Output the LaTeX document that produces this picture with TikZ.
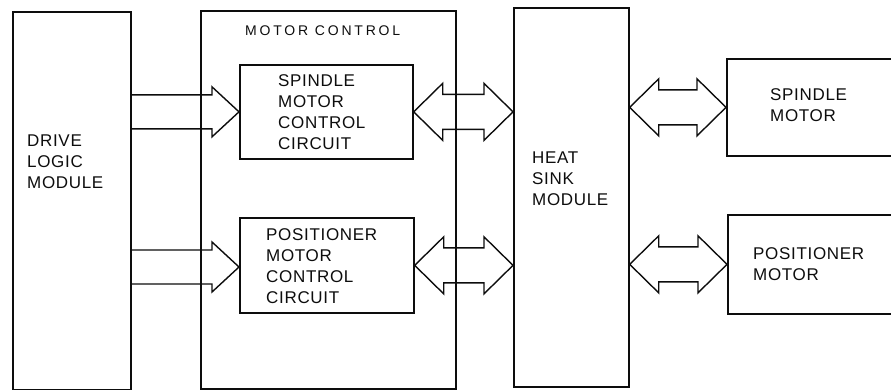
\documentclass[tikz,border=0pt]{standalone}
\usepackage{fontspec}
\setmainfont{Liberation Sans}
\newfontfamily\BoxFont{Liberation Sans}[LetterSpace=4]
\newfontfamily\TitleFont{Liberation Sans}[LetterSpace=20]
\usetikzlibrary{calc}
\definecolor{InkClr}{rgb}{0.05,0.05,0.05}

\tikzset{
  blk/.style={draw=InkClr,line width=1.7pt,inner sep=0pt,anchor=north west},
  txt/.style={inner sep=0pt,anchor=north west,align=left,text=InkClr,
    font=\BoxFont\fontsize{17}{21}\selectfont},
  hollow/.style={draw=InkClr,line width=1.4pt,line join=miter}
}
% single hollow arrow: tail #1, tip #2
\newcommand\FatArrow[2]{\draw[hollow] let \p1=(#1), \p2=(#2) in
  (\x1,\y2+17) -- (\x2-27,\y2+17) -- (\x2-27,\y2+25) -- (\p2)
  -- (\x2-27,\y2-25) -- (\x2-27,\y2-17) -- (\x1,\y2-17);}
% double hollow arrow: tip #1, tip #2
\newcommand\BusArrow[2]{\draw[hollow] let \p1=(#1), \p2=(#2) in
  (\p1) -- (\x1+29,\y1+28.5) -- (\x1+29,\y1+17.5) -- (\x2-29,\y1+17.5)
  -- (\x2-29,\y1+28.5) -- (\x2,\y1) -- (\x2-29,\y1-28.5) -- (\x2-29,\y1-17.5)
  -- (\x1+29,\y1-17.5) -- (\x1+29,\y1-28.5) -- cycle;}

\begin{document}
\begin{tikzpicture}[x=1pt,y=-1pt]
\clip (0,0) rectangle (891,390);

% blocks
\node[blk,minimum width=118pt,minimum height=378pt] (dlm) at (12,11) {};
\node[blk,minimum width=255pt,minimum height=378pt] (mc) at (200,10) {};
\node[blk,minimum width=173pt,minimum height=94pt] (smcc) at (239,64) {};
\node[blk,minimum width=174pt,minimum height=95pt] (pmcc) at (239,217) {};
\node[blk,minimum width=115pt,minimum height=379pt] (hsm) at (513,7) {};
\node[blk,minimum width=200pt,minimum height=97pt] (sm) at (726,58) {};
\node[blk,minimum width=200pt,minimum height=99pt] (pm) at (727,214) {};

% labels
\node[txt] (dlmtxt) at (27,135) {DRIVE\\LOGIC\\MODULE};
\node[txt,font=\TitleFont\fontsize{14}{17}\selectfont] (mctxt) at (245,26) {MOTOR CONTROL};
\node[txt] (smcctxt) at (278,74) {SPINDLE\\MOTOR\\CONTROL\\CIRCUIT};
\node[txt] (pmcctxt) at (266,228) {POSITIONER\\MOTOR\\CONTROL\\CIRCUIT};
\node[txt] (hsmtxt) at (532,152) {HEAT\\SINK\\MODULE};
\node[txt] (smtxt) at (770,88) {SPINDLE\\MOTOR};
\node[txt] (pmtxt) at (753,247) {POSITIONER\\MOTOR};

% drive logic -> control circuits
\FatArrow{dlm.east |- smcc.west}{smcc.west}
\FatArrow{dlm.east |- 0,267}{pmcc.west |- 0,267}

% control circuits <-> heat sink <-> motors
\BusArrow{smcc.east}{hsm.west |- smcc.east}
\BusArrow{pmcc.east}{hsm.west |- pmcc.east}
\BusArrow{hsm.east |- sm.west}{sm.west}
\BusArrow{hsm.east |- pm.west}{pm.west}

\end{tikzpicture}
\end{document}
